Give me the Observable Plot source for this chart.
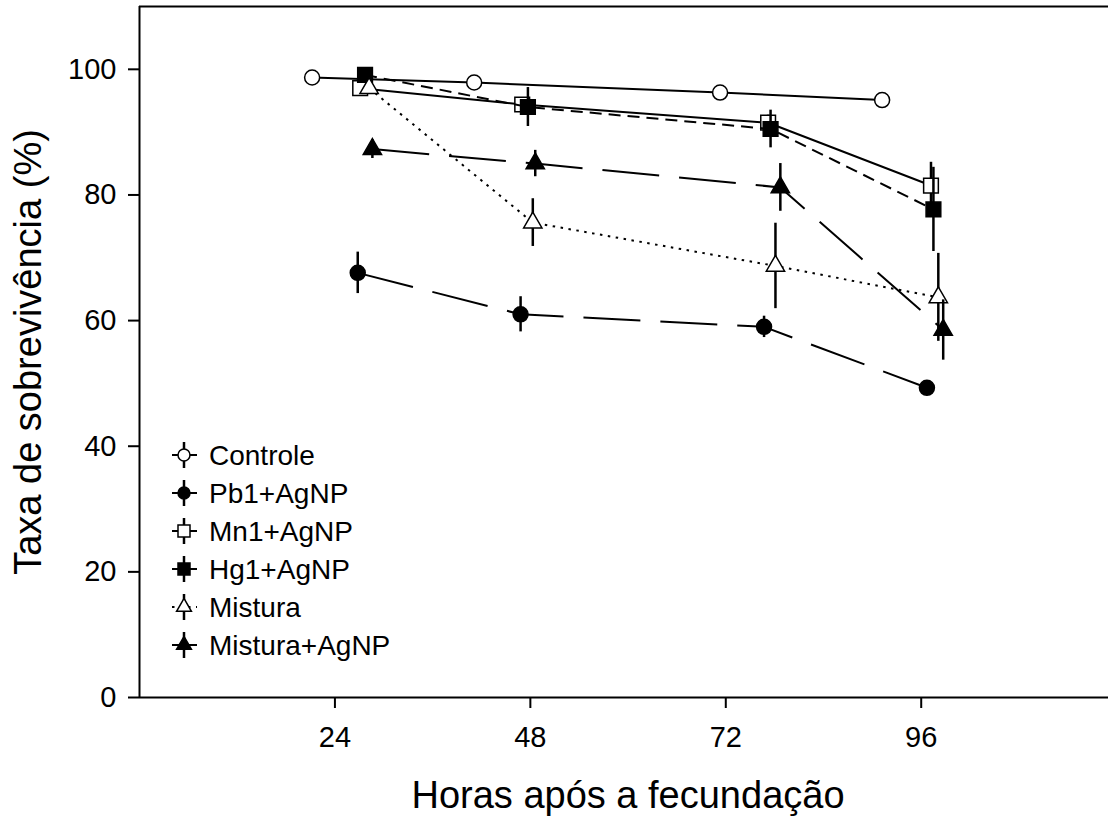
<!DOCTYPE html>
<html><head><meta charset="utf-8">
<script src="https://cdn.jsdelivr.net/npm/d3@7"></script>
<script src="https://cdn.jsdelivr.net/npm/@observablehq/plot@0.6"></script>
<style>
body{margin:0;background:#fff}
#chart{position:relative;width:1108px;height:818px}
</style>
</head><body><div id="chart"></div>
<script>
// ---- data ----
const seriesNames = ["Controle","Pb1+AgNP","Mn1+AgNP","Hg1+AgNP","Mistura","Mistura+AgNP"];

const controleHours = [21.2, 41.1, 71.3, 91.2];
const controleValues = [98.7, 97.9, 96.3, 95.1];
const controleErrors = [0, 0, 0, 0];

const pb1Hours = [26.8, 46.8, 76.7, 96.7];
const pb1Values = [67.6, 61.0, 59.0, 49.3];
const pb1Errors = [3.3, 2.8, 1.7, 0];

const mn1Hours = [27.1, 47.0, 77.2, 97.2];
const mn1Values = [97.0, 94.4, 91.5, 81.5];
const mn1Errors = [0.6, 0.8, 1.2, 3.7];

const hg1Hours = [27.7, 47.7, 77.5, 97.5];
const hg1Values = [99.1, 94.0, 90.5, 77.7];
const hg1Errors = [0.6, 3.1, 3.0, 6.7];

const misturaHours = [28.2, 48.3, 78.1, 98.1];
const misturaValues = [97.0, 75.6, 68.7, 63.7];
const misturaErrors = [0.8, 3.8, 6.8, 7.0];

const misturaAgHours = [28.6, 48.6, 78.7, 98.7];
const misturaAgValues = [87.3, 85.0, 81.2, 58.5];
const misturaAgErrors = [1.5, 2.1, 3.8, 4.8];

const xTicks = [24, 48, 72, 96];
const yTicks = [0, 20, 40, 60, 80, 100];
const xDomain = [0, 119];
const yDomain = [0, 110];
const xLabel = "Horas após a fecundação";
const yLabel = "Taxa de sobrevivência (%)";

// ---- styles ----
const FONT = "'Liberation Sans', Arial, Helvetica, sans-serif";
const seriesStyle = [
  {symbol: "circle",   fill: "white", dash: null,    r: 7.5},
  {symbol: "circle",   fill: "black", dash: "57,20", r: 7.5},
  {symbol: "square",   fill: "white", dash: null,    r: 8.3},
  {symbol: "square",   fill: "black", dash: "12,7",  r: 8.3},
  {symbol: "triangle", fill: "white", dash: "2.5,5.5", r: 6.8},
  {symbol: "triangle", fill: "black", dash: "57,20", r: 6.8}
];

const allSeries = [
  [controleHours, controleValues, controleErrors],
  [pb1Hours, pb1Values, pb1Errors],
  [mn1Hours, mn1Values, mn1Errors],
  [hg1Hours, hg1Values, hg1Errors],
  [misturaHours, misturaValues, misturaErrors],
  [misturaAgHours, misturaAgValues, misturaAgErrors]
].map(([h, v, e], i) => h.map((hh, j) => ({series: seriesNames[i], h: hh, v: v[j], e: e[j]})));

const marks = [];
allSeries.forEach((rows, i) => {
  const st = seriesStyle[i];
  marks.push(Plot.line(rows, {x: "h", y: "v", stroke: "black", strokeWidth: 2,
    strokeDasharray: st.dash, strokeLinecap: "butt"}));
  marks.push(Plot.ruleX(rows.filter(d => d.e > 0), {x: "h", y1: d => d.v - d.e, y2: d => d.v + d.e,
    stroke: "black", strokeWidth: 2.5}));
  marks.push(Plot.dot(rows, {x: "h", y: "v", symbol: st.symbol, r: st.r, fill: st.fill,
    stroke: "black", strokeWidth: 1.5}));
});

const chart = Plot.plot({
  width: 1108,
  height: 818,
  marginLeft: 139,
  marginRight: 0,
  marginTop: 6,
  marginBottom: 121,
  style: {fontFamily: FONT, background: "white", overflow: "visible"},
  x: {domain: xDomain},
  y: {domain: yDomain},
  marks: [
    Plot.axisX({ticks: xTicks, tickSize: 11, tickPadding: 18, fontSize: 29, strokeWidth: 2, label: null}),
    Plot.axisY({ticks: yTicks, tickSize: 11, tickPadding: 12, fontSize: 29, strokeWidth: 2, label: null}),
    Plot.ruleX([xDomain[0]], {stroke: "black", strokeWidth: 2}),
    Plot.ruleY([yDomain[0]], {stroke: "black", strokeWidth: 2}),
    Plot.ruleY([yDomain[1]], {stroke: "black", strokeWidth: 2}),
    Plot.text([yLabel], {frameAnchor: "left", rotate: -90, dx: -111, fontSize: 38, fill: "black",
      textAnchor: "middle", lineAnchor: "middle"}),
    Plot.text([xLabel], {frameAnchor: "bottom", dy: 98, dx: 4, fontSize: 38, fill: "black",
      textAnchor: "middle", lineAnchor: "middle"}),
    ...marks
  ]
});
document.getElementById("chart").appendChild(chart);

// ---- legend (inside plot area, lower left) ----
const svg = d3.select(chart.tagName.toLowerCase() === "svg" ? chart : chart.querySelector("svg"));
const lg = svg.append("g").attr("font-family", FONT).attr("font-size", 28).attr("text-anchor", "start");
const legendSym = {circle: d3.symbolCircle, square: d3.symbolSquare, triangle: d3.symbolTriangle};
const legendSize = {circle: Math.PI * 36, square: 144, triangle: 95};
seriesNames.forEach((name, i) => {
  const st = seriesStyle[i];
  const y = 455 + i * 38;
  const g = lg.append("g").attr("transform", `translate(184,${y})`);
  g.append("line").attr("x1", -12).attr("x2", 13).attr("y1", 0).attr("y2", 0)
    .attr("stroke", "black").attr("stroke-width", 2)
    .attr("stroke-dasharray", st.symbol === "triangle" && st.fill === "white" ? "2.5,5.5" : null);
  g.append("line").attr("x1", 0).attr("x2", 0).attr("y1", -13).attr("y2", 13)
    .attr("stroke", "black").attr("stroke-width", 2.5);
  g.append("path").attr("d", d3.symbol(legendSym[st.symbol], legendSize[st.symbol])())
    .attr("fill", st.fill).attr("stroke", "black").attr("stroke-width", 1.5);
  lg.append("text").attr("x", 209).attr("y", y).attr("dy", "0.35em").attr("fill", "black")
    .attr("text-anchor", "start").text(name);
});
</script>
</body></html>
